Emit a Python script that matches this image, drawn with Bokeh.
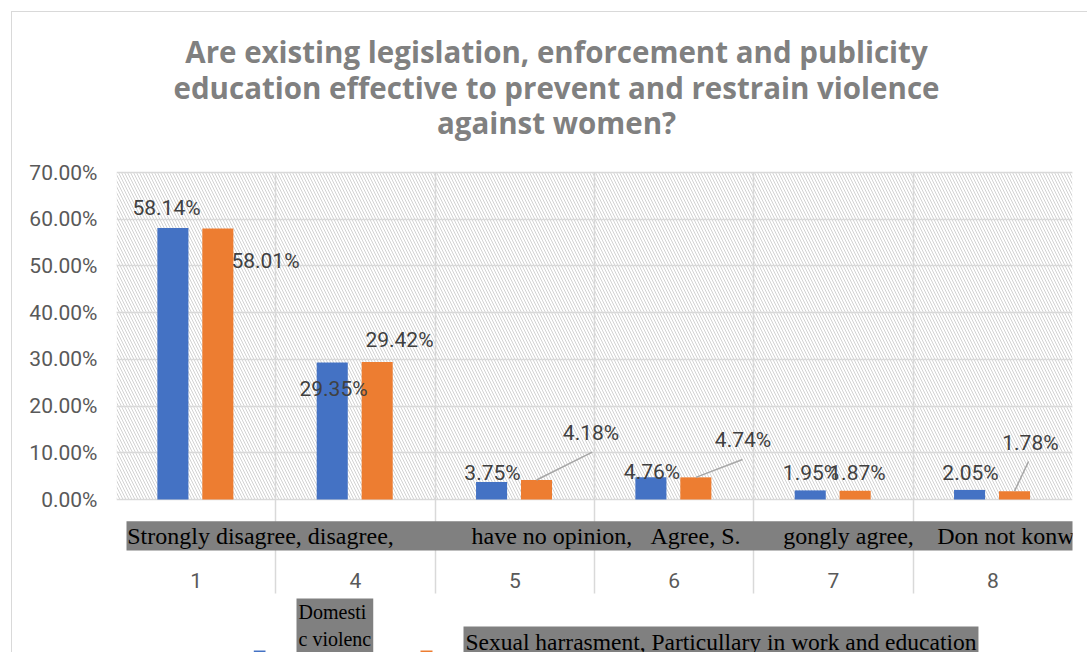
from bokeh.plotting import figure
from bokeh.models import (ColumnDataSource, Range1d, FixedTicker, PrintfTickFormatter,
                          Label, BoxAnnotation)
from bokeh.core.properties import value
from bokeh.transform import dodge
from bokeh.embed import file_html
from bokeh.resources import INLINE

# ---------------- data ----------------
categories = ["1", "4", "5", "6", "7", "8"]
domestic = [58.14, 29.35, 3.75, 4.76, 1.95, 2.05]
harass = [58.01, 29.42, 4.18, 4.74, 1.87, 1.78]
y_ticks = [0, 10, 20, 30, 40, 50, 60, 70]
series_names = ["Domesti\nc violenc",
                "Sexual harrasment, Particullary in work and education"]
title_lines = ["Are existing legislation, enforcement and publicity",
               "education effective to prevent and restrain violence",
               "against women?"]
band_texts = ["Strongly disagree, disagree,", "have no opinion,", "Agree, S.",
              "gongly agree,", "Don not konw"]

# ---------------- styles / positions ----------------
BLUE = "#4472c4"
ORANGE = "#ed7d31"
GRID = "#d9d9d9"
TICK_TXT = "#595959"
LAB_TXT = "#404040"
NUM_FONT = "Roboto"
NUM_SIZE = "21px"
SERIF = "Liberation Serif"

BAR_W = 0.195
OFF_A = -0.146
OFF_B = 0.136

lab_a_dx = [-0.186, -0.138, -0.140, -0.139, -0.141, -0.140]
lab_a_y = [62.3, 23.76, 5.57, 5.78, 5.57, 5.57]
lab_b_dx = [0.435, 0.276, 0.478, 0.432, 0.1505, 0.236]
lab_b_y = [51.16, 34.04, 14.34, 12.63, 5.57, 12.2]
leader_idx = [2, 3, 5]
leader_dx = [0.486, 0.429, 0.224]
leader_y = [10.13, 8.56, 8.13]

# page-pixel helpers (plot area: x 116..1072 for 6 categories, y 499..172 for 0..70)
PXC = 956 / 6.0
PYV = 327 / 70.0
def dx(px):
    return (px - 116) / PXC
def dy(py):
    return (499 - py) / PYV

ORIGIN = 12                 # page offset of the canvas (css margin + border)
W, H = 1076, 641
n = len(categories)
pos = [i + 0.5 for i in range(n)]
src = ColumnDataSource(dict(pos=pos, a=domestic, b=harass))

p = figure(width=W, height=H,
           x_range=Range1d(0, n), y_range=Range1d(dy(ORIGIN + H), dy(ORIGIN)),
           output_backend="svg", toolbar_location=None, x_axis_location=None,
           min_border_left=116 - ORIGIN, min_border_right=ORIGIN + W - 1072,
           min_border_top=0, min_border_bottom=0,
           background_fill_color="white", border_fill_color="white",
           outline_line_color=None)
p.styles = {"margin-left": "11px", "margin-top": "11px",
            "border-left": "1px solid #d9d9d9", "border-top": "1px solid #d9d9d9"}

# hatched plot-area background
bg = p.quad(left=[0], right=[n], bottom=[y_ticks[0]], top=[y_ticks[-1]],
            fill_color="white", line_color=None, hatch_pattern="\\",
            hatch_color="#d2d2d2", hatch_scale=6, hatch_weight=1)
bg.level = "image"

# bars
p.vbar(x=dodge("pos", OFF_A), top="a", width=BAR_W, source=src,
       fill_color=BLUE, line_color=None)
p.vbar(x=dodge("pos", OFF_B), top="b", width=BAR_W, source=src,
       fill_color=ORANGE, line_color=None)

# leader lines
p.segment(x0=[pos[i] + d for i, d in zip(leader_idx, leader_dx)], y0=leader_y,
          x1=[pos[i] + OFF_B for i in leader_idx], y1=[harass[i] for i in leader_idx],
          line_color="#a6a6a6", line_width=1.5)

# data labels
p.text(x=[pos[i] + lab_a_dx[i] for i in range(n)], y=lab_a_y,
       text=["%.2f%%" % v for v in domestic], text_font=value(NUM_FONT),
       text_font_size=NUM_SIZE, text_color=LAB_TXT, text_align="center",
       text_baseline="middle")
p.text(x=[pos[i] + lab_b_dx[i] for i in range(n)], y=lab_b_y,
       text=["%.2f%%" % v for v in harass], text_font=value(NUM_FONT),
       text_font_size=NUM_SIZE, text_color=LAB_TXT, text_align="center",
       text_baseline="middle")

# category labels (1, 4, 5 ...)
p.text(x=pos, y=[dy(580)] * n, text=categories, text_font=value(NUM_FONT),
       text_font_size=NUM_SIZE, text_color=TICK_TXT, text_align="center",
       text_baseline="middle")

# grids: horizontal value lines, vertical category dividers reaching into the label area
p.xgrid[0].ticker = FixedTicker(ticks=list(range(n + 1)))
p.xgrid[0].cross_bounds = (dy(593), y_ticks[-1])
p.ygrid[0].ticker = FixedTicker(ticks=y_ticks)
for g in (p.xgrid[0], p.ygrid[0]):
    g.grid_line_color = GRID
    g.grid_line_width = 1.5

# y axis
ya = p.yaxis[0]
ya.ticker = FixedTicker(ticks=y_ticks)
ya.formatter = PrintfTickFormatter(format="%.2f%%")
ya.axis_line_color = None
ya.major_tick_line_color = None
ya.minor_tick_line_color = None
ya.major_tick_out = 0
ya.minor_tick_out = 0
ya.major_label_standoff = 19
ya.major_label_text_font = NUM_FONT
ya.major_label_text_font_size = NUM_SIZE
ya.major_label_text_color = TICK_TXT

# title
for txt, yy in zip(title_lines, [51, 87, 122]):
    p.add_layout(Label(x=dx(556), y=dy(yy), text=txt, text_align="center",
                       text_baseline="middle", text_font="Open Sans",
                       text_font_style="bold", text_font_size="29.5px",
                       text_color="#808080"))

# category text band
p.add_layout(BoxAnnotation(left=dx(126), right=dx(1072.7), top=dy(520.7), bottom=dy(550),
                           fill_color="#808080", fill_alpha=1, line_color=None))
for txt, xx in zip(band_texts, [126.7, 471, 650, 782.7, 936.7]):
    p.add_layout(Label(x=dx(xx), y=dy(535.5), text=txt, text_align="left",
                       text_baseline="middle", text_font=SERIF, text_font_size="24px",
                       text_color="black"))

# legend
p.add_layout(BoxAnnotation(left=dx(253.3), right=dx(265), top=dy(650), bottom=dy(660),
                           fill_color=BLUE, fill_alpha=1, line_color=None))
p.add_layout(BoxAnnotation(left=dx(420), right=dx(432), top=dy(650), bottom=dy(660),
                           fill_color=ORANGE, fill_alpha=1, line_color=None))
p.add_layout(Label(x=dx(296), y=dy(598), text=series_names[0], text_align="left",
                   text_baseline="top", text_font=SERIF, text_font_size="20px",
                   text_line_height=1.25, text_color="black",
                   background_fill_color="#808080", padding=2))
p.add_layout(Label(x=dx(463), y=dy(626), text=series_names[1], text_align="left",
                   text_baseline="top", text_font=SERIF, text_font_size="23.5px",
                   text_color="black", background_fill_color="#808080", padding=2))

open("out.html", "w").write(file_html(p, INLINE))
